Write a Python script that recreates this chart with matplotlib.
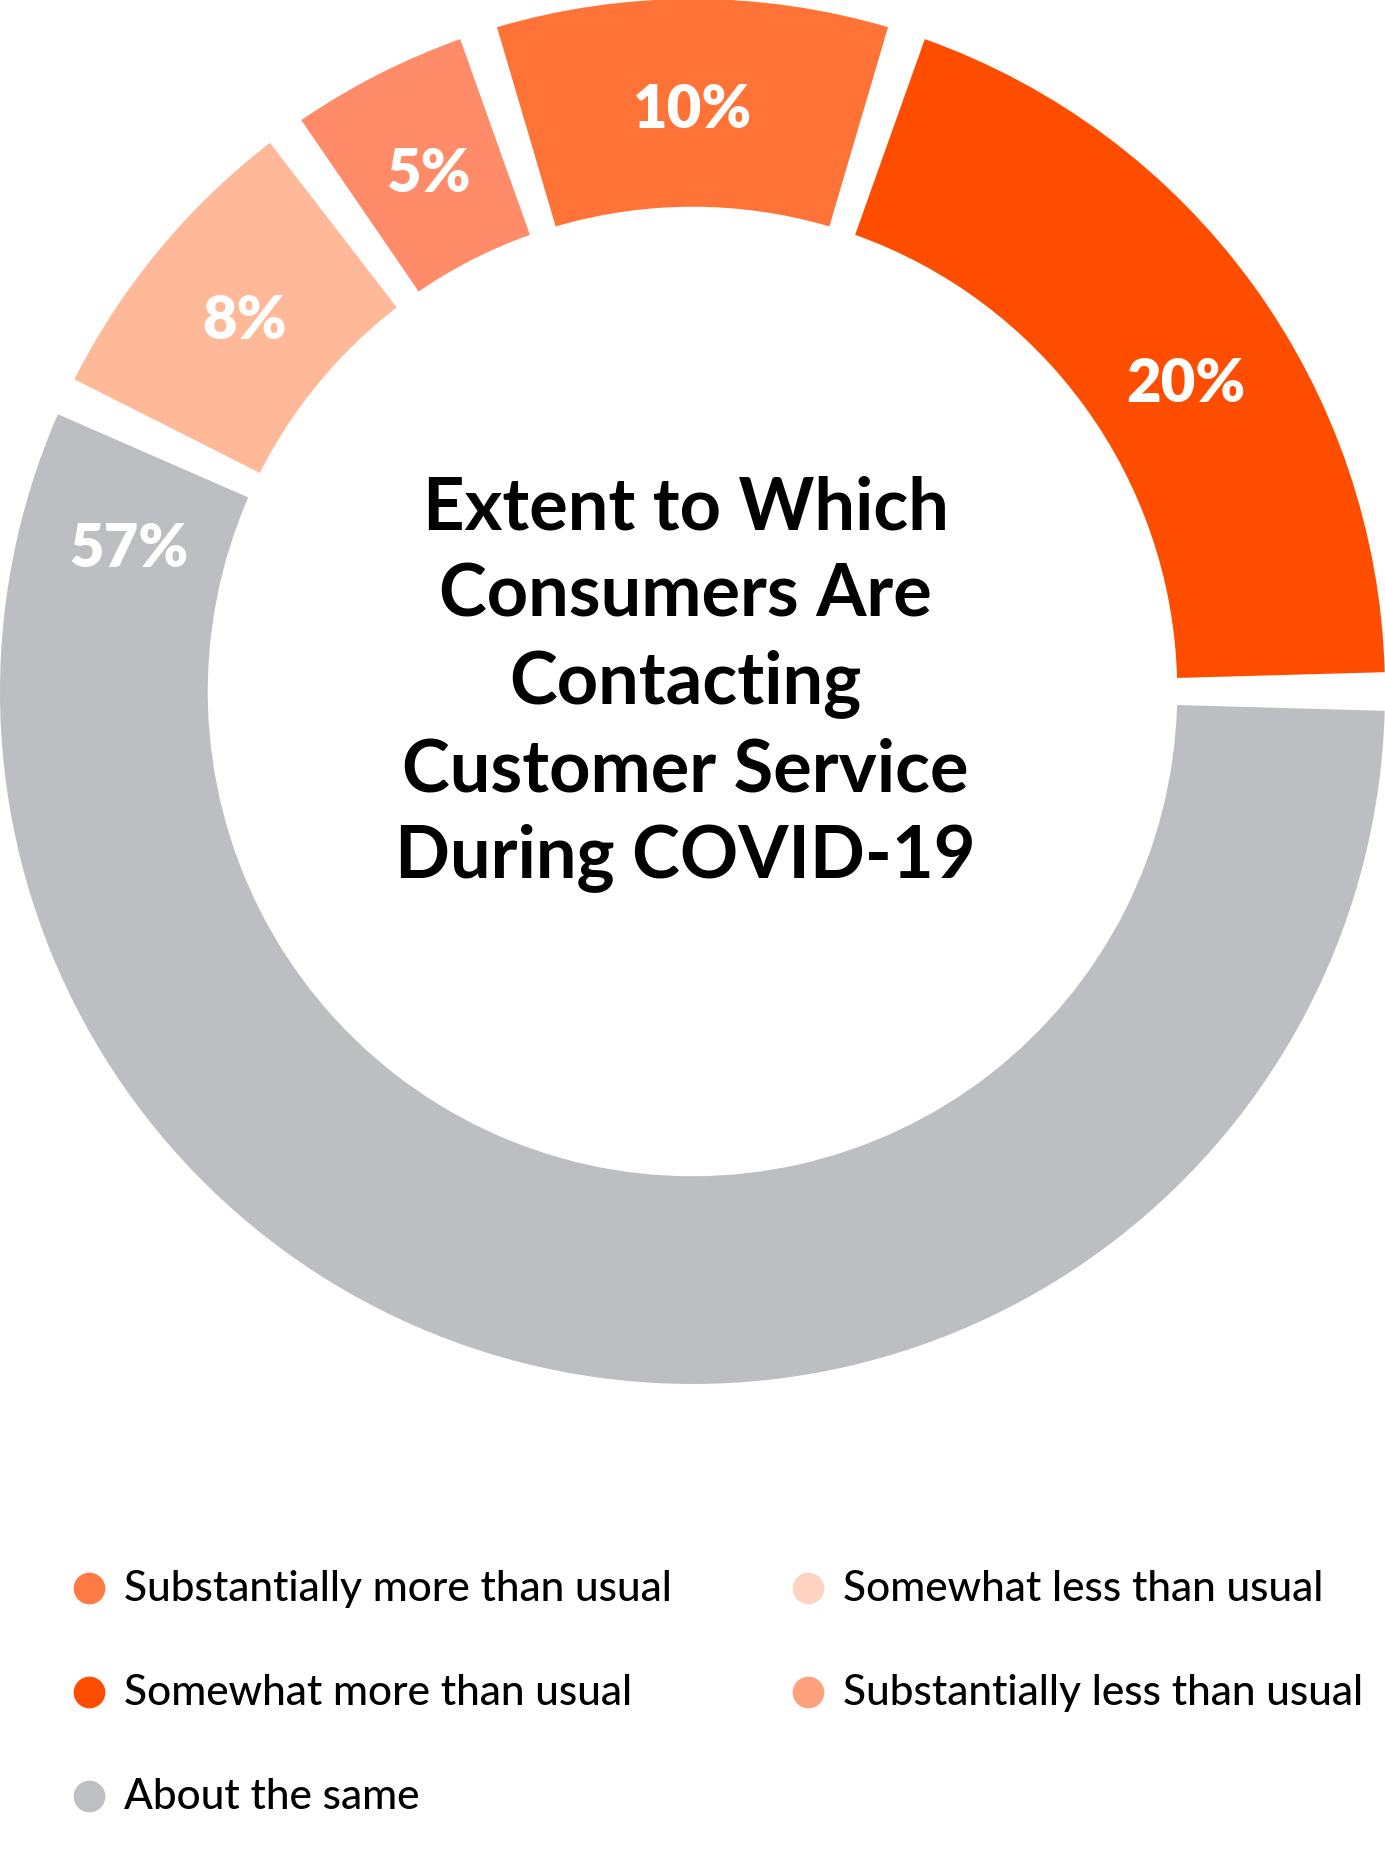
import matplotlib
matplotlib.use('Agg')
import matplotlib.pyplot as plt
import numpy as np

plt.rcParams['font.family'] = ['Lato', 'DejaVu Sans']

# Data (clockwise from 3 o'clock)
categories = ['About the same', 'Somewhat less than usual', 'Substantially less than usual',
              'Substantially more than usual', 'Somewhat more than usual']
values = [57, 8, 5, 10, 20]
seg_colors = ['#BDBEC2', '#FFB898', '#FF8B68', '#FF7337', '#FF4D00']

# Legend order and dot colours
legend_order = ['Substantially more than usual', 'Somewhat more than usual', 'About the same',
                'Somewhat less than usual', 'Substantially less than usual']
legend_colors = ['#FF7A45', '#FF4D00', '#BEBFC3', '#FFD3C0', '#FFA07F']

title = 'Extent to Which\nConsumers Are\nContacting\nCustomer Service\nDuring COVID-19'

W, H = 1385, 1856
fig = plt.figure(figsize=(W / 100, H / 100), dpi=100)
fig.patch.set_facecolor('white')

# donut
ax = fig.add_axes([0, 1 - W / H, 1, W / H])
wedges, _ = ax.pie(values, colors=seg_colors, startangle=0, counterclock=False, radius=1,
                   wedgeprops=dict(width=0.3, linewidth=0))
# label angles from the unpadded slices
label_shift = [None, 0, 0, 0, -4]
label_angles = []
for w, s in zip(wedges, label_shift):
    if s is None:
        label_angles.append(w.theta1 + 11)  # big grey slice: label near its end
    else:
        label_angles.append((w.theta1 + w.theta2) / 2 + s)

pad = 3.2  # white gap between slices, degrees
for w in wedges:
    w.set_theta1(w.theta1 + pad / 2)
    w.set_theta2(w.theta2 - pad / 2)
ax.set_xlim(-1, 1)
ax.set_ylim(-1, 1)
ax.set_aspect('equal')
ax.axis('off')

for v, ang in zip(values, label_angles):
    r = 0.84
    ax.text(r * np.cos(np.radians(ang)), r * np.sin(np.radians(ang)), f'{v}%',
            ha='center', va='center', color='white', fontsize=43, fontweight='heavy')

ax.text(-0.01, 0.012, title, ha='center', va='center', fontsize=52, fontweight='bold',
        color='black', linespacing=1.36)

# legend
lax = fig.add_axes([0, 0, 1, 1])
lax.set_xlim(0, W)
lax.set_ylim(H, 0)
lax.axis('off')
for i, (lab, col) in enumerate(zip(legend_order, legend_colors)):
    c, r = (0, i) if i < 3 else (1, i - 3)
    x = 89 + c * 719
    y = 1589 + r * 104
    lax.scatter([x], [y], s=520, color=col, linewidths=0)
    lax.text(x + 35, y, lab, ha='left', va='center', fontsize=30.5, color='black',
             fontweight=500)

fig.savefig('out.png', dpi=100, facecolor='white')
